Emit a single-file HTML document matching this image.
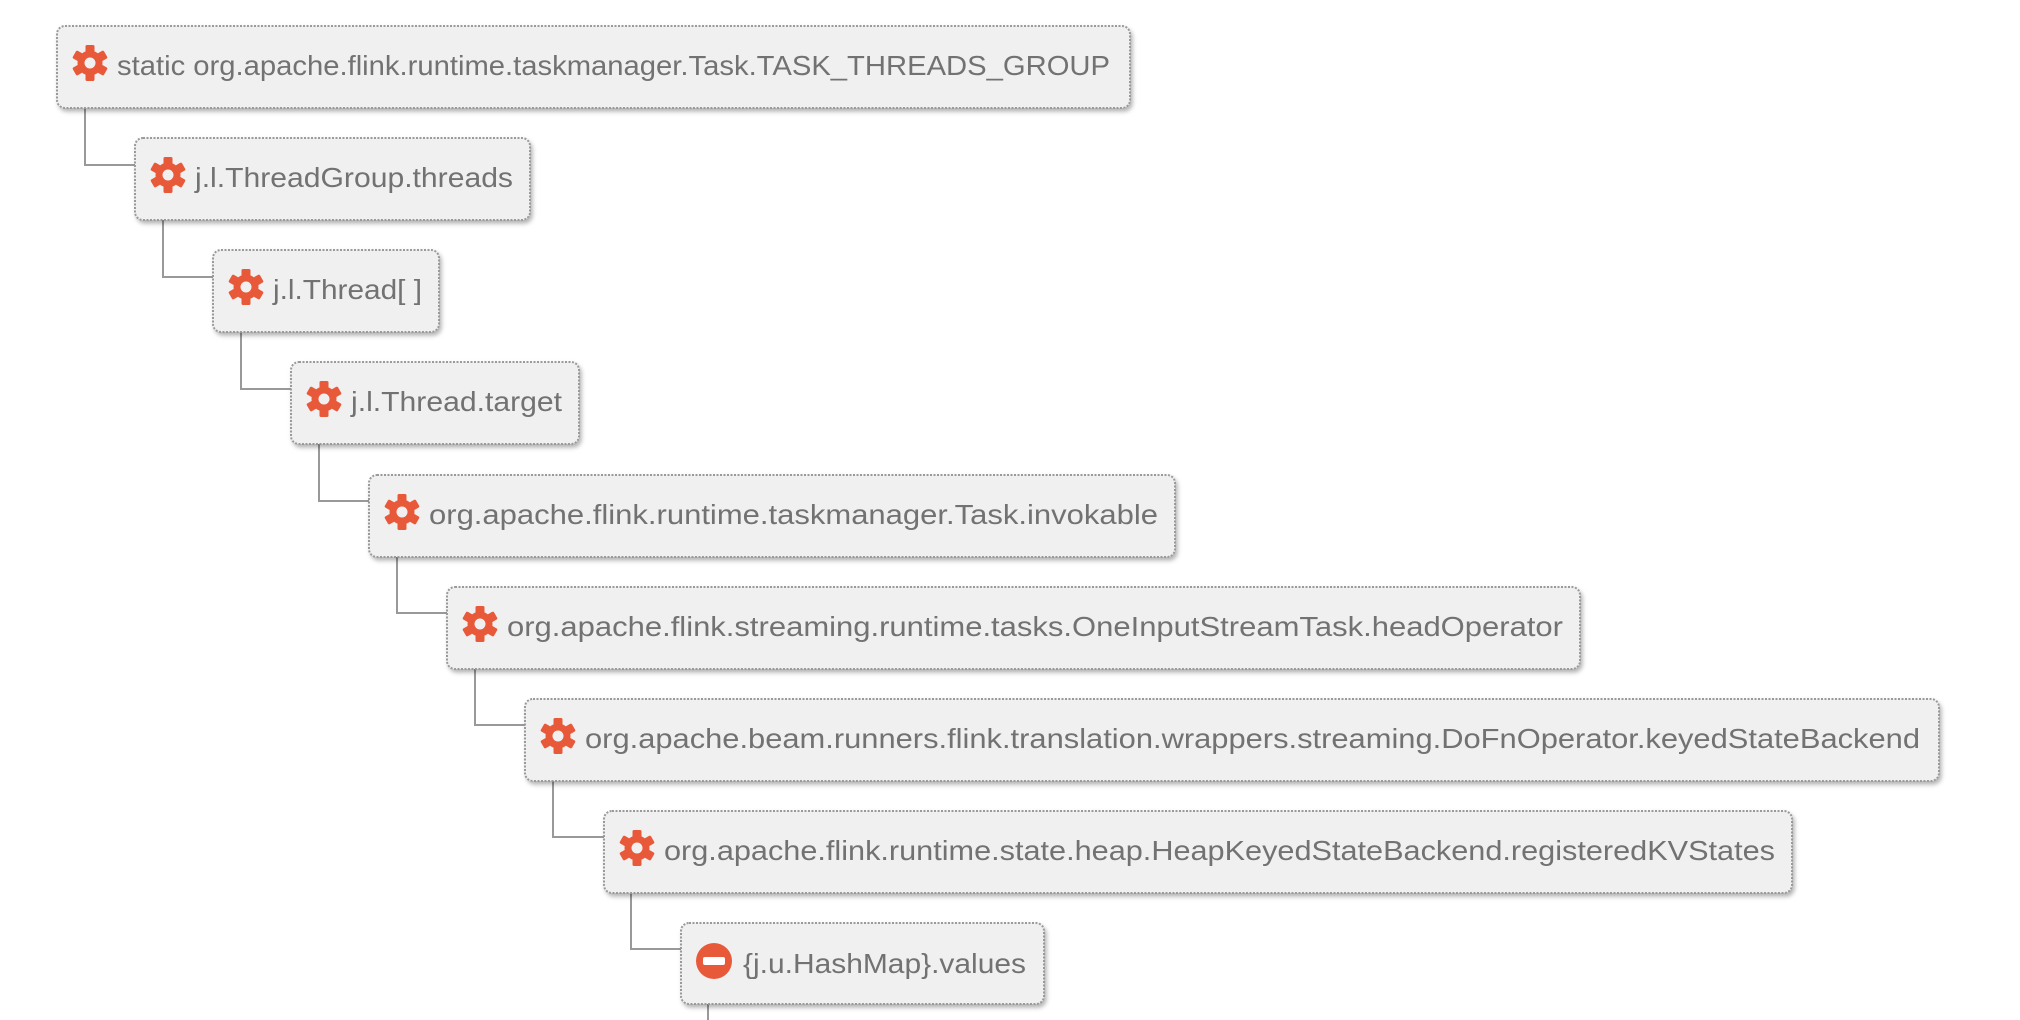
<!DOCTYPE html>
<html><head><meta charset="utf-8"><style>
html,body{margin:0;padding:0;background:#fff;}
svg{display:block;}
text{font-family:"Liberation Sans",sans-serif;font-size:28px;fill:#727272;}
</style></head><body>
<svg width="2020" height="1020" viewBox="0 0 2020 1020" xmlns="http://www.w3.org/2000/svg">
<defs>
<filter id="sh" x="-5%" y="-20%" width="110%" height="150%"><feDropShadow dx="2" dy="3" stdDeviation="2" flood-color="#000" flood-opacity="0.3"/></filter>
<g id="gear">
<circle r="12.5" fill="#e8593a"/>
<g fill="#e8593a">
<rect x="-4.5" y="-18" width="9" height="36" rx="1.5"/>
<rect x="-4.5" y="-18" width="9" height="36" rx="1.5" transform="rotate(60)"/>
<rect x="-4.5" y="-18" width="9" height="36" rx="1.5" transform="rotate(120)"/>
</g>
<circle r="5.5" fill="#f0f0f0"/>
</g>
<g id="minus">
<circle r="18" fill="#e8593a"/>
<rect x="-11" y="-4" width="22" height="8" rx="2" fill="#fff"/>
</g>
</defs>
<g stroke="#999" stroke-width="2" fill="none">
<path d="M85 108 V165 H135"/>
<path d="M163 220 V277 H213"/>
<path d="M241 332 V389 H291"/>
<path d="M319 444 V501 H369"/>
<path d="M397 557 V613 H447"/>
<path d="M475 669 V725 H525"/>
<path d="M553 781 V837 H604"/>
<path d="M631 893 V949 H681"/>
<path d="M708 1004 V1020"/>
</g>
<g filter="url(#sh)" fill="#f0f0f0" stroke="#9a9a9a" stroke-width="2" stroke-dasharray="2 1.5">
<rect x="57" y="26" width="1073" height="82" rx="8"/>
<rect x="135" y="138" width="395" height="82" rx="8"/>
<rect x="213" y="250" width="226" height="82" rx="8"/>
<rect x="291" y="362" width="288" height="82" rx="8"/>
<rect x="369" y="475" width="806" height="82" rx="8"/>
<rect x="447" y="587" width="1133" height="82" rx="8"/>
<rect x="525" y="699" width="1414" height="82" rx="8"/>
<rect x="604" y="811" width="1188" height="82" rx="8"/>
<rect x="681" y="923" width="363" height="81" rx="8"/>
</g>
<use href="#gear" x="90" y="63"/>
<use href="#gear" x="168" y="175"/>
<use href="#gear" x="246" y="287"/>
<use href="#gear" x="324" y="399"/>
<use href="#gear" x="402" y="512"/>
<use href="#gear" x="480" y="624"/>
<use href="#gear" x="558" y="736"/>
<use href="#gear" x="637" y="848"/>
<use href="#minus" x="714" y="961"/>
<text x="117" y="75" textLength="993" lengthAdjust="spacingAndGlyphs">static org.apache.flink.runtime.taskmanager.Task.TASK_THREADS_GROUP</text>
<text x="195" y="187" textLength="318" lengthAdjust="spacingAndGlyphs">j.l.ThreadGroup.threads</text>
<text x="273" y="299" textLength="149" lengthAdjust="spacingAndGlyphs">j.l.Thread[ ]</text>
<text x="351" y="411" textLength="211" lengthAdjust="spacingAndGlyphs">j.l.Thread.target</text>
<text x="429" y="524" textLength="729" lengthAdjust="spacingAndGlyphs">org.apache.flink.runtime.taskmanager.Task.invokable</text>
<text x="507" y="636" textLength="1056" lengthAdjust="spacingAndGlyphs">org.apache.flink.streaming.runtime.tasks.OneInputStreamTask.headOperator</text>
<text x="585" y="748" textLength="1335" lengthAdjust="spacingAndGlyphs">org.apache.beam.runners.flink.translation.wrappers.streaming.DoFnOperator.keyedStateBackend</text>
<text x="664" y="860" textLength="1111" lengthAdjust="spacingAndGlyphs">org.apache.flink.runtime.state.heap.HeapKeyedStateBackend.registeredKVStates</text>
<text x="743" y="973" textLength="283" lengthAdjust="spacingAndGlyphs">{j.u.HashMap}.values</text>
</svg>
</body></html>
